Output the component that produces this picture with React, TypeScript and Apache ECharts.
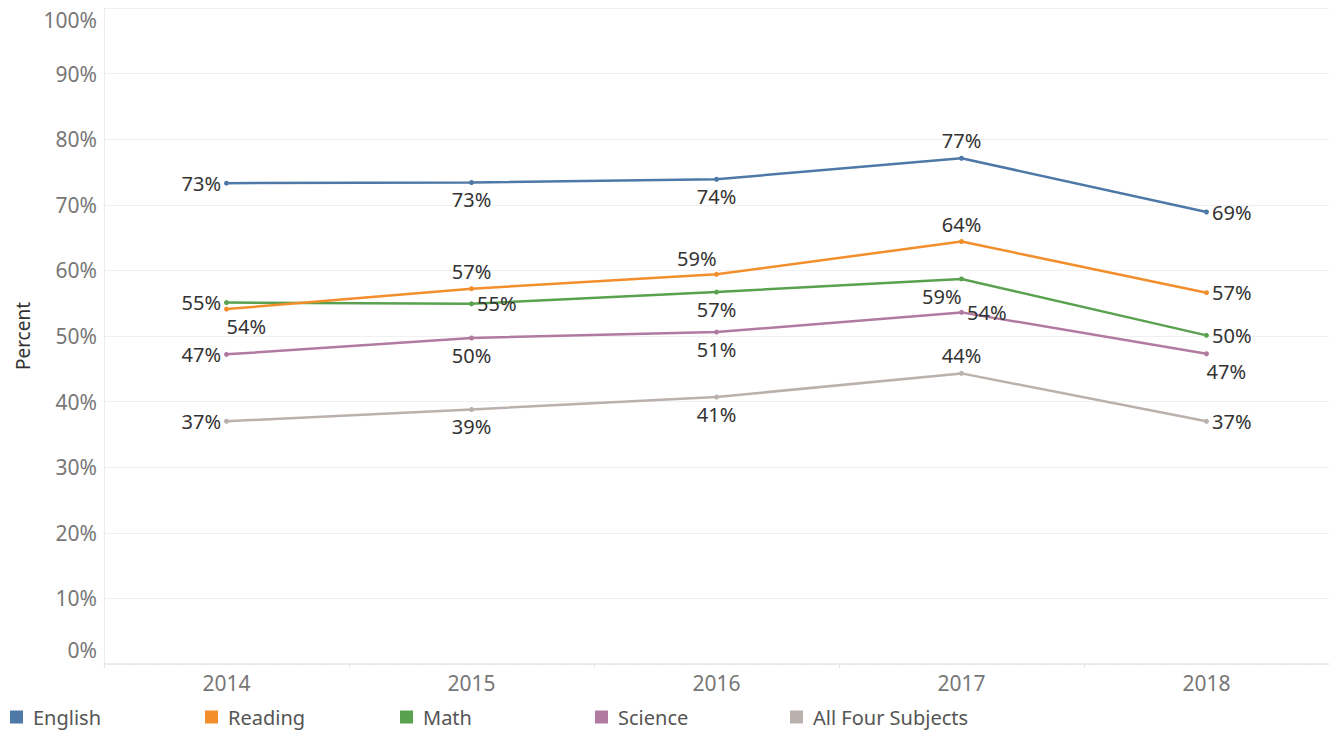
import React, { useEffect, useRef } from "react";
import * as echarts from "echarts";

const years = ["2014", "2015", "2016", "2017", "2018"];
const english = [73.3, 73.4, 73.9, 77.1, 68.9];
const reading = [54.1, 57.2, 59.4, 64.4, 56.6];
const math = [55.1, 54.9, 56.7, 58.7, 50.1];
const science = [47.2, 49.7, 50.6, 53.6, 47.3];
const allFour = [37.0, 38.8, 40.7, 44.3, 37.0];

const seriesNames = ["English", "Reading", "Math", "Science", "All Four Subjects"];
const seriesColors = ["#4e79a7", "#f28e2b", "#59a14f", "#b07aa1", "#bab0ac"];
const seriesValues = [english, reading, math, science, allFour];

// label placement per point (Tableau-style)
type Place = "L" | "R" | "T" | "B" | "BR" | "TL" | "BL";
const placements: Place[][] = [
  ["L", "B", "B", "T", "R"],
  ["BR", "T", "TL", "T", "R"],
  ["L", "R", "B", "BL", "R"],
  ["L", "B", "B", "R", "BR"],
  ["L", "B", "B", "T", "R"],
];

const FONT = "'Noto Sans', sans-serif";

function labelFor(p: Place) {
  const base: any = { show: true };
  switch (p) {
    case "L":
      return { ...base, position: "left", distance: 3 };
    case "R":
      return { ...base, position: "right", distance: 3 };
    case "T":
      return { ...base, position: "top", distance: 5 };
    case "B":
      return { ...base, position: "bottom", distance: 5 };
    case "BR":
      return { ...base, position: "bottom", distance: 5, align: "left" };
    case "BL":
      return { ...base, position: "bottom", distance: 5, align: "right" };
    case "TL":
      return { ...base, position: "top", distance: 3, align: "right" };
  }
}

export default function App() {
  const ref = useRef<HTMLDivElement>(null);
  useEffect(() => {
    if (!ref.current) return;
    const chart = echarts.init(ref.current, null, { renderer: "svg" });
    chart.setOption({
      animation: false,
      textStyle: { fontFamily: FONT },
      grid: { left: 104, right: -5, top: 8, bottom: 67, containLabel: false },
      legend: seriesNames.map((n, i) => ({
        left: 10 + 195 * i,
        top: 707,
        padding: 0,
        itemWidth: 13,
        itemHeight: 13,
        itemGap: 10,
        icon: "rect",
        data: [n],
        textStyle: { fontSize: 20, color: "#555", fontFamily: FONT, padding: [0, 0, 0, 5] },
      })),
      xAxis: {
        type: "category",
        data: years,
        boundaryGap: true,
        axisLine: { lineStyle: { color: "#e4e4e4", type: "dotted", width: 1.5 } },
        axisTick: { show: true, length: 4, lineStyle: { color: "#e4e4e4" } },
        axisLabel: { fontSize: 21, color: "#777", margin: 8, fontFamily: FONT },
        splitLine: { show: false },
      },
      yAxis: {
        type: "value",
        min: 0,
        max: 100,
        interval: 10,
        name: "Percent",
        nameLocation: "middle",
        nameGap: 70,
        nameTextStyle: { fontSize: 19, color: "#333", fontFamily: FONT },
        axisLine: { show: true, lineStyle: { color: "#ececec" } },
        axisTick: { show: false },
        axisLabel: {
          fontSize: 21,
          color: "#777",
          margin: 7,
          fontFamily: FONT,
          formatter: (v: number) =>
            v === 100 ? "{top|100%}" : v === 0 ? "{bot|0%}" : v + "%",
          rich: {
            top: { fontSize: 21, color: "#777", padding: [24, 0, 0, 0], fontFamily: FONT },
            bot: { fontSize: 21, color: "#777", padding: [0, 0, 28, 0], fontFamily: FONT },
          },
        },
        splitLine: { show: true, lineStyle: { color: "#f0f0f0", width: 1 } },
      },
      series: seriesValues.map((vals, si) => ({
        name: seriesNames[si],
        type: "line",
        data: vals.map((v, i) => ({ value: v, label: labelFor(placements[si][i]) })),
        itemStyle: { color: seriesColors[si] },
        lineStyle: { color: seriesColors[si], width: 2.5 },
        symbol: "circle",
        symbolSize: 5,
        showSymbol: true,
        z: 10 - si,
        label: {
          show: true,
          fontSize: 20,
          color: "#333",
          fontFamily: FONT,
          formatter: (p: any) => Math.round(p.value) + "%",
        },
      })),
    });
    return () => chart.dispose();
  }, []);
  return (
    <div
      ref={ref}
      style={{ position: "fixed", left: 0, top: 0, width: 1329, height: 731, background: "#fff" }}
    />
  );
}
